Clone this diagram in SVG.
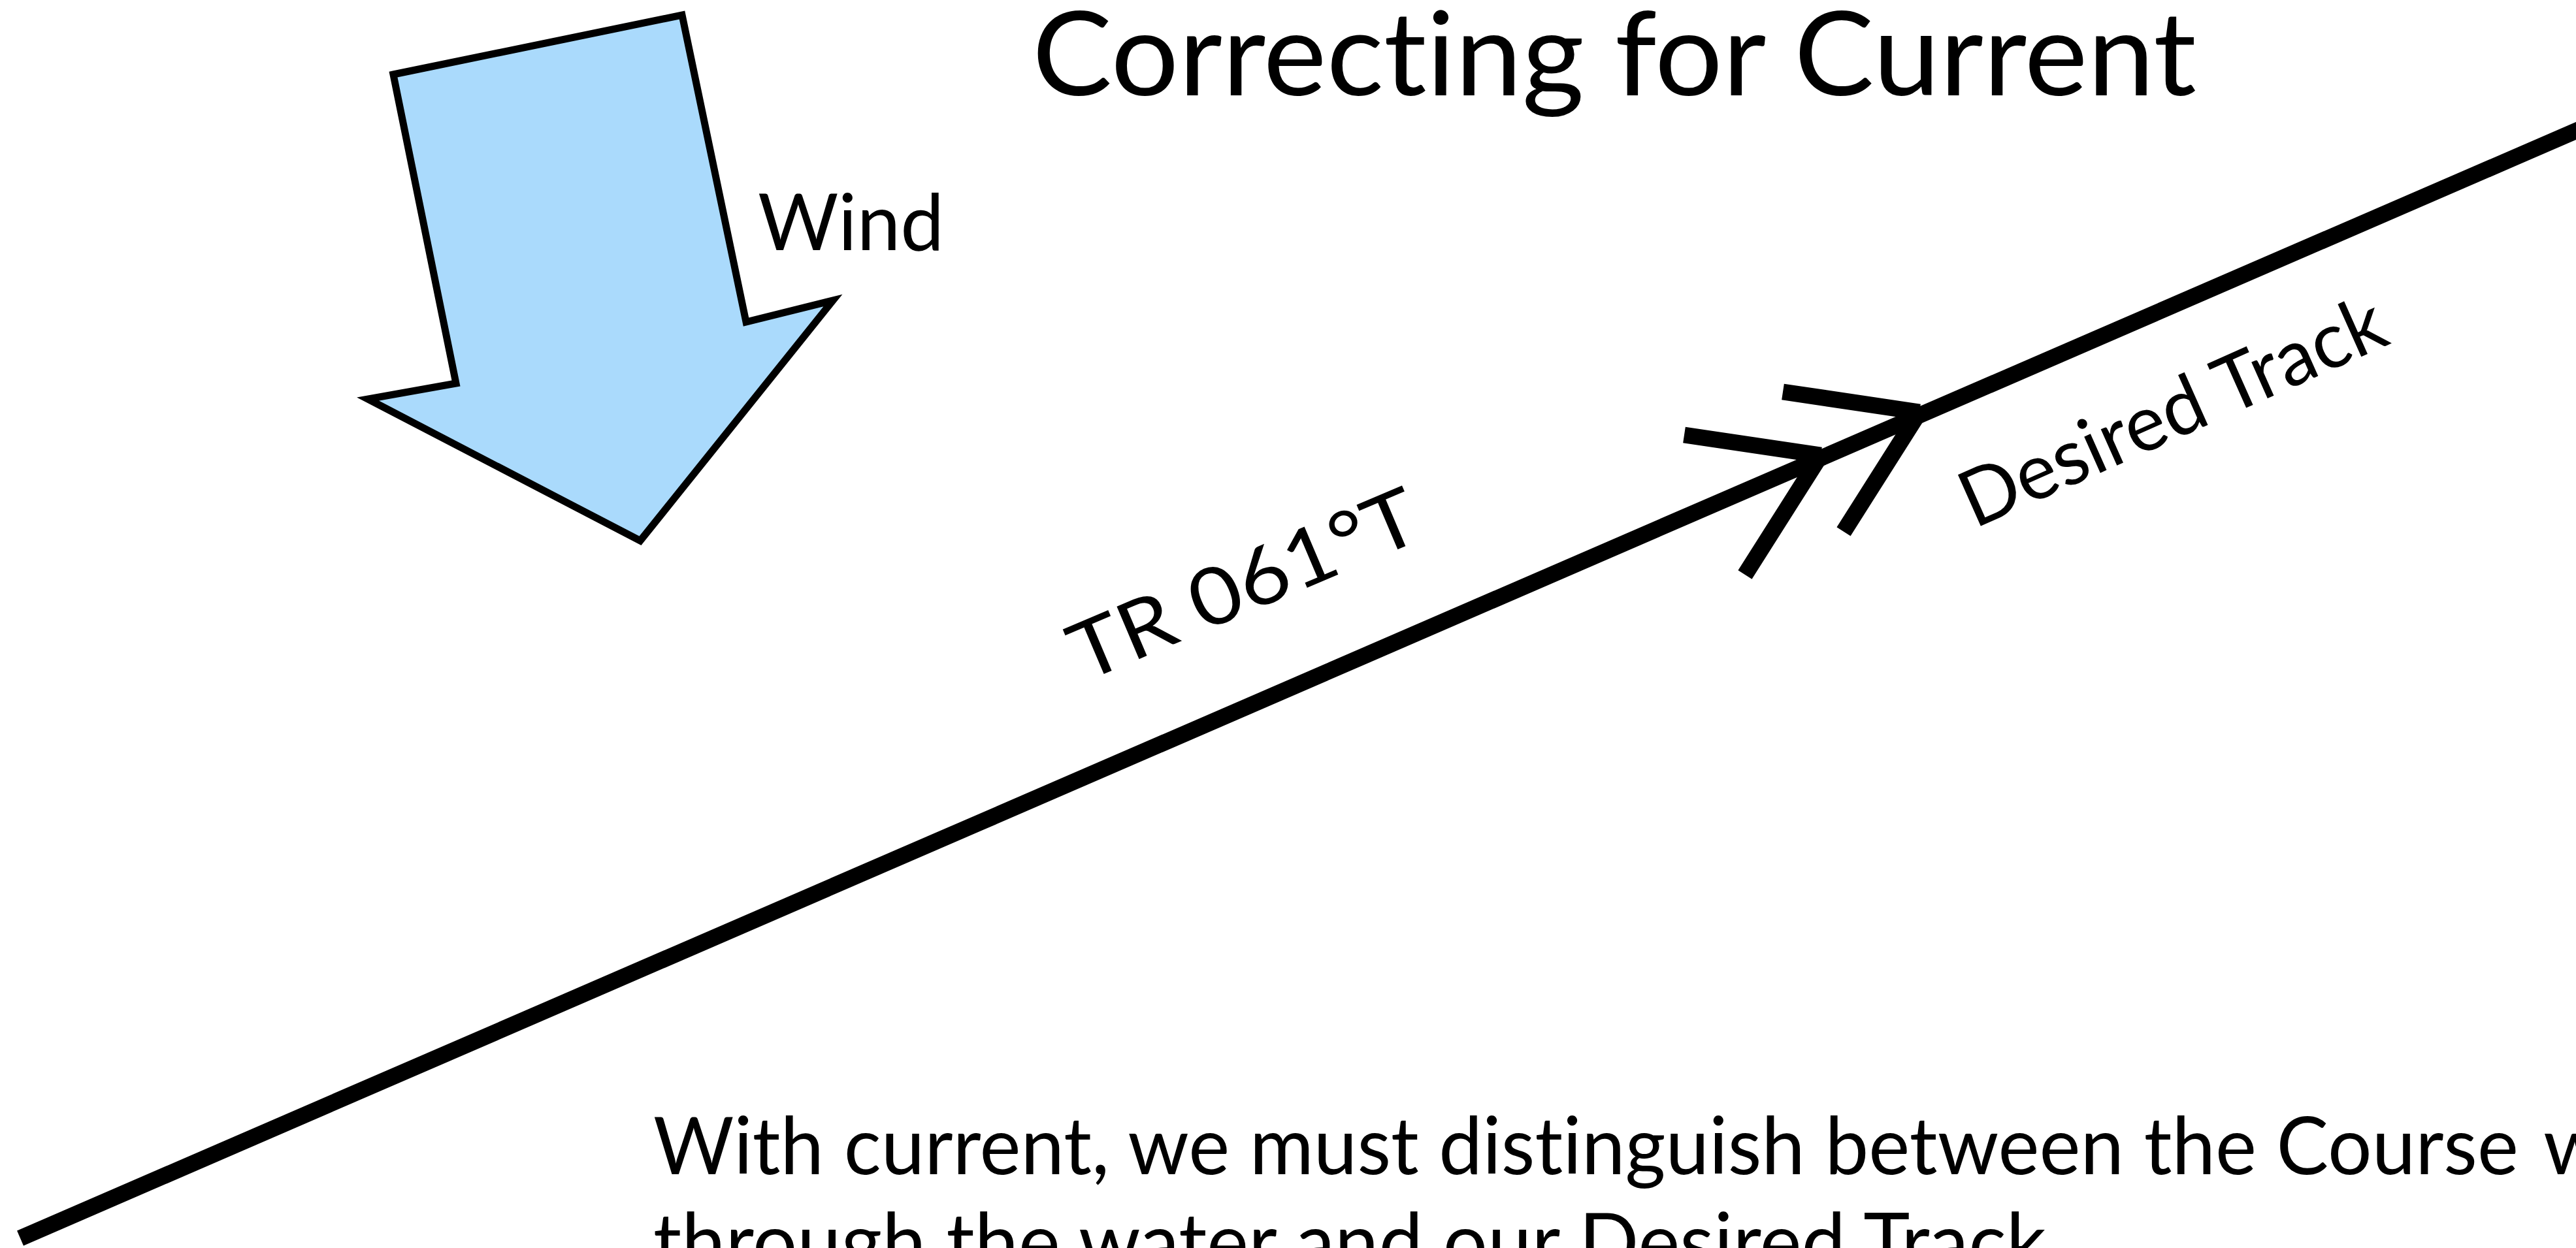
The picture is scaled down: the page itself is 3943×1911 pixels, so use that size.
<svg xmlns="http://www.w3.org/2000/svg" width="3943" height="1911" viewBox="0 0 3943 1911">
  <style>
    .lbl { font-family: Lato, "Liberation Sans", sans-serif; fill: #000; font-variant-ligatures: none; font-feature-settings: "liga" 0; }
    .track { stroke: #000; stroke-width: 25; fill: none; stroke-linecap: butt; }
  </style>
  <rect x="0" y="0" width="3943" height="1911" fill="#ffffff"/>

  <g id="title">
    <text class="lbl" x="1580" y="146" font-size="178" textLength="1782" lengthAdjust="spacingAndGlyphs">Correcting for Current</text>
  </g>

  <g id="wind">
    <polygon points="602,114 1044,23 1142,493 1275,460 980,828 563,611 698,587" fill="#aadafc" stroke="#000" stroke-width="11" stroke-linejoin="miter"/>
    <text class="lbl" x="1160" y="383" font-size="120" textLength="285" lengthAdjust="spacingAndGlyphs">Wind</text>
  </g>

  <g id="connectors">
    <line class="track" x1="31" y1="1896" x2="3990" y2="180"/>
    <path class="track" d="M2578,666 L2787,697 M2671,880 L2787,697"/>
    <path class="track" d="M2729,600 L2938,631 M2822,814 L2938,631"/>
  </g>

  <g id="track-label">
    <text class="lbl" transform="translate(1659,1045) rotate(-23)" font-size="122" textLength="568" lengthAdjust="spacingAndGlyphs">TR 061°T</text>
  </g>

  <g id="desired-track-label">
    <text class="lbl" transform="translate(3022,810) rotate(-24)" font-size="120" textLength="700" lengthAdjust="spacingAndGlyphs">Desired Track</text>
  </g>

  <g id="body">
    <text class="lbl" x="1000" y="1798" font-size="122" textLength="2855" lengthAdjust="spacingAndGlyphs">With current, we must distinguish between the Course</text>
    <text class="lbl" x="3893" y="1798" font-size="122">we</text>
    <text class="lbl" x="1000" y="1945" font-size="122" textLength="2132" lengthAdjust="spacingAndGlyphs">through the water and our Desired Track</text>
  </g>
</svg>
